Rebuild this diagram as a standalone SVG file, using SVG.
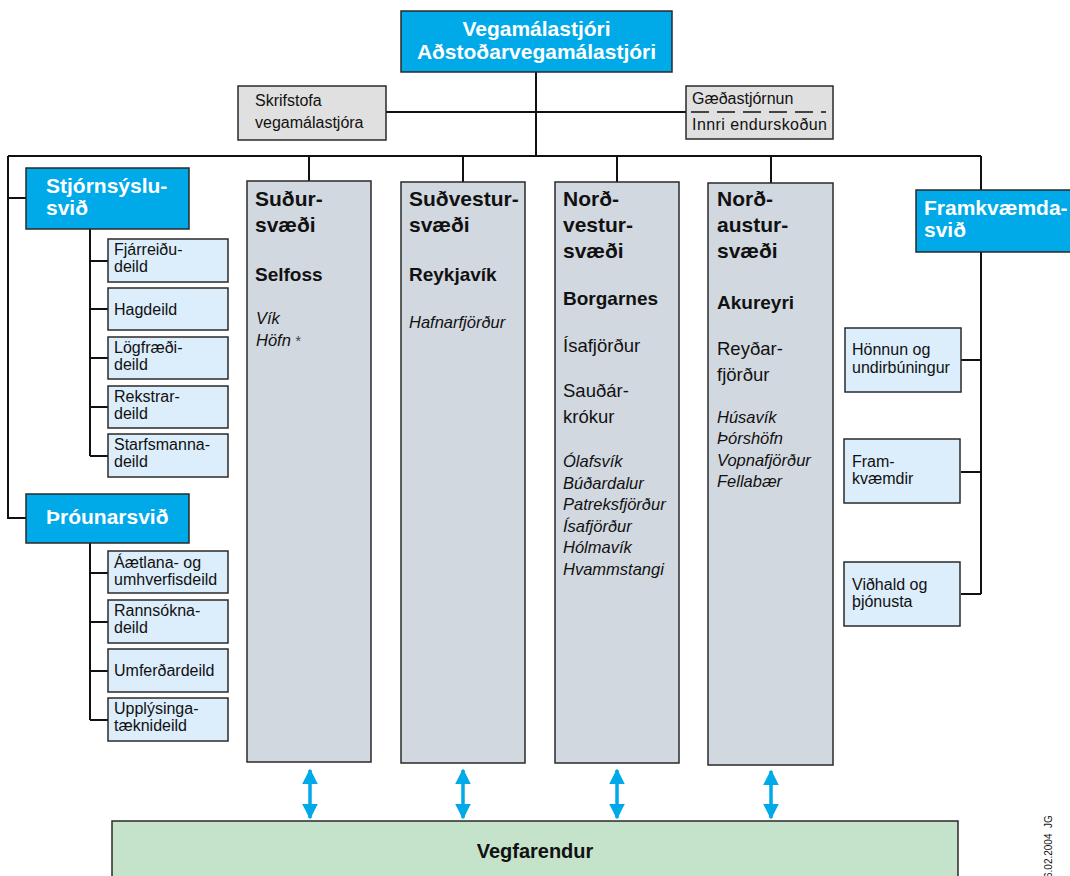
<svg xmlns="http://www.w3.org/2000/svg" width="1070" height="876" viewBox="0 0 1070 876">
<defs>
<style>
text{font-family:"Liberation Sans",Arial,sans-serif;fill:#111}
.cyan{fill:#00A9E8;stroke:#2a2a2a;stroke-width:1.5}
.sub{fill:#DCEDFB;stroke:#2a2a2a;stroke-width:1.5}
.reg{fill:#D1D8E0;stroke:#2a2a2a;stroke-width:1.5}
.gray{fill:#E0E0E0;stroke:#2a2a2a;stroke-width:1.5}
.green{fill:#C5E3CB;stroke:#2a2a2a;stroke-width:1.5}
.wt{fill:#fff;font-weight:bold;font-size:21px}
.st{font-size:16px}
.rt{font-weight:bold;font-size:21px}
.ct{font-weight:bold;font-size:19px}
.nt{font-size:18.5px}
.it{font-style:italic;font-size:16.5px}
.ln{stroke:#111;stroke-width:2;fill:none}
.arr{stroke:#00A9E8;stroke-width:3.5;fill:none}
</style>
<marker id="ah" viewBox="0 0 10 10" refX="9" refY="5" markerWidth="4.5" markerHeight="5.5" markerUnits="strokeWidth" orient="auto-start-reverse">
<path d="M0,0 L10,5 L0,10 Z" fill="#00A9E8"/>
</marker>
</defs>

<g id="connectors">
<path class="ln" d="M536,72 V156"/>
<path class="ln" d="M386,112 H686"/>
<path class="ln" d="M8,156 H981"/>
<path class="ln" d="M309,156 V181 M463,156 V182 M617,156 V182 M771,156 V183"/>
<path class="ln" d="M8,156 V518 H26 M8,198 H26"/>
<path class="ln" d="M90,229 V456 M90,261 H108 M90,309 H108 M90,358 H108 M90,407 H108 M90,456 H108"/>
<path class="ln" d="M90,543 V720 M90,573 H108 M90,622 H108 M90,671 H108 M90,720 H108"/>
<path class="ln" d="M981,156 V190 M981,252 V594 M961,360 H981 M961,472 H981 M961,594 H981"/>
<path class="arr" d="M310,770 V818" marker-start="url(#ah)" marker-end="url(#ah)"/>
<path class="arr" d="M463,770 V818" marker-start="url(#ah)" marker-end="url(#ah)"/>
<path class="arr" d="M617,770 V818" marker-start="url(#ah)" marker-end="url(#ah)"/>
<path class="arr" d="M771,771 V818" marker-start="url(#ah)" marker-end="url(#ah)"/>
</g>

<g id="vegamalastjori">
<rect class="cyan" x="401" y="11" width="271" height="61"/>
<text class="wt" x="536.5" y="36" text-anchor="middle">Vegamálastjóri</text>
<text class="wt" x="536.5" y="59" text-anchor="middle">Aðstoðarvegamálastjóri</text>
</g>

<g id="skrifstofa">
<rect class="gray" x="238" y="86" width="148" height="54"/>
<text class="st" x="255" y="106">Skrifstofa</text>
<text class="st" x="255" y="128">vegamálastjóra</text>
</g>

<g id="gaedastjornun">
<rect class="gray" x="686" y="86" width="147" height="53"/>
<text class="st" x="692" y="104">Gæðastjórnun</text>
<path d="M691,112 H826" stroke="#111" stroke-width="1.5" stroke-dasharray="18 8"/>
<text class="st" x="692" y="130" textLength="135" lengthAdjust="spacing">Innri endurskoðun</text>
</g>

<g id="stjornsyslusvid">
<rect class="cyan" x="26" y="168" width="163" height="61"/>
<text class="wt" x="46" y="193">Stjórnsýslu-</text>
<text class="wt" x="46" y="215">svið</text>
</g>
<g id="fjarreidudeild">
<rect class="sub" x="108" y="239" width="120" height="43"/>
<text class="st" x="114" y="255">Fjárreiðu-</text>
<text class="st" x="114" y="272">deild</text>
</g>
<g id="hagdeild">
<rect class="sub" x="108" y="288" width="120" height="42"/>
<text class="st" x="114" y="315">Hagdeild</text>
</g>
<g id="logfraedideild">
<rect class="sub" x="108" y="337" width="120" height="42"/>
<text class="st" x="114" y="353">Lögfræði-</text>
<text class="st" x="114" y="370">deild</text>
</g>
<g id="rekstrardeild">
<rect class="sub" x="108" y="386" width="120" height="42"/>
<text class="st" x="114" y="402">Rekstrar-</text>
<text class="st" x="114" y="419">deild</text>
</g>
<g id="starfsmannadeild">
<rect class="sub" x="108" y="434" width="120" height="43"/>
<text class="st" x="114" y="450">Starfsmanna-</text>
<text class="st" x="114" y="467">deild</text>
</g>

<g id="throunarsvid">
<rect class="cyan" x="26" y="494" width="163" height="49"/>
<text class="wt" x="46" y="524">Þróunarsvið</text>
</g>
<g id="aetlanadeild">
<rect class="sub" x="108" y="551" width="120" height="42"/>
<text class="st" x="114" y="568">Áætlana- og</text>
<text class="st" x="114" y="585">umhverfisdeild</text>
</g>
<g id="rannsoknadeild">
<rect class="sub" x="108" y="600" width="120" height="43"/>
<text class="st" x="114" y="616">Rannsókna-</text>
<text class="st" x="114" y="633">deild</text>
</g>
<g id="umferdardeild">
<rect class="sub" x="108" y="649" width="120" height="43"/>
<text class="st" x="114" y="676">Umferðardeild</text>
</g>
<g id="upplysingataeknideild">
<rect class="sub" x="108" y="698" width="120" height="43"/>
<text class="st" x="114" y="714">Upplýsinga-</text>
<text class="st" x="114" y="731">tæknideild</text>
</g>

<g id="sudursvaedi">
<rect class="reg" x="247" y="181" width="124" height="581"/>
<text class="rt" x="255" y="206">Suður-</text>
<text class="rt" x="255" y="232">svæði</text>
<text class="ct" x="255" y="281">Selfoss</text>
<text class="it" x="256" y="324">Vík</text>
<text class="it" x="256" y="346">Höfn <tspan font-style="normal" font-size="14" fill="#444">*</tspan></text>
</g>

<g id="sudvestursvaedi">
<rect class="reg" x="401" y="182" width="124" height="581"/>
<text class="rt" x="409" y="206">Suðvestur-</text>
<text class="rt" x="409" y="232">svæði</text>
<text class="ct" x="409" y="281">Reykjavík</text>
<text class="it" x="409" y="328">Hafnarfjörður</text>
</g>

<g id="nordvestursvaedi">
<rect class="reg" x="555" y="182" width="124" height="581"/>
<text class="rt" x="563" y="206">Norð-</text>
<text class="rt" x="563" y="232">vestur-</text>
<text class="rt" x="563" y="258">svæði</text>
<text class="ct" x="563" y="305">Borgarnes</text>
<text class="nt" x="563" y="352">Ísafjörður</text>
<text class="nt" x="563" y="397">Sauðár-</text>
<text class="nt" x="563" y="423">krókur</text>
<text class="it" x="563" y="467">Ólafsvík</text>
<text class="it" x="563" y="489">Búðardalur</text>
<text class="it" x="563" y="510">Patreksfjörður</text>
<text class="it" x="563" y="532">Ísafjörður</text>
<text class="it" x="563" y="553">Hólmavík</text>
<text class="it" x="563" y="575">Hvammstangi</text>
</g>

<g id="nordaustursvaedi">
<rect class="reg" x="708" y="183" width="125" height="582"/>
<text class="rt" x="717" y="206">Norð-</text>
<text class="rt" x="717" y="232">austur-</text>
<text class="rt" x="717" y="258">svæði</text>
<text class="ct" x="717" y="309">Akureyri</text>
<text class="nt" x="717" y="355">Reyðar-</text>
<text class="nt" x="717" y="381">fjörður</text>
<text class="it" x="717" y="423">Húsavík</text>
<text class="it" x="717" y="444">Þórshöfn</text>
<text class="it" x="717" y="466">Vopnafjörður</text>
<text class="it" x="717" y="487">Fellabær</text>
</g>

<g id="framkvaemdasvid">
<rect class="cyan" x="916" y="190" width="160" height="62"/>
<text class="wt" x="924" y="215">Framkvæmda-</text>
<text class="wt" x="924" y="237">svið</text>
</g>
<g id="honnun">
<rect class="sub" x="845" y="328" width="116" height="64"/>
<text class="st" x="852" y="355">Hönnun og</text>
<text class="st" x="852" y="373">undirbúningur</text>
</g>
<g id="framkvaemdir">
<rect class="sub" x="844" y="439" width="116" height="64"/>
<text class="st" x="852" y="467">Fram-</text>
<text class="st" x="852" y="484">kvæmdir</text>
</g>
<g id="vidhald">
<rect class="sub" x="844" y="562" width="116" height="64"/>
<text class="st" x="852" y="590">Viðhald og</text>
<text class="st" x="852" y="607">þjónusta</text>
</g>

<g id="vegfarendur">
<rect class="green" x="112" y="821" width="846" height="70"/>
<text x="535" y="858" text-anchor="middle" font-weight="bold" font-size="20">Vegfarendur</text>
</g>

<text x="0" y="0" font-size="10" transform="translate(1052,878) rotate(-90)">6.02.2004&#160;&#160;JG</text>
</svg>
